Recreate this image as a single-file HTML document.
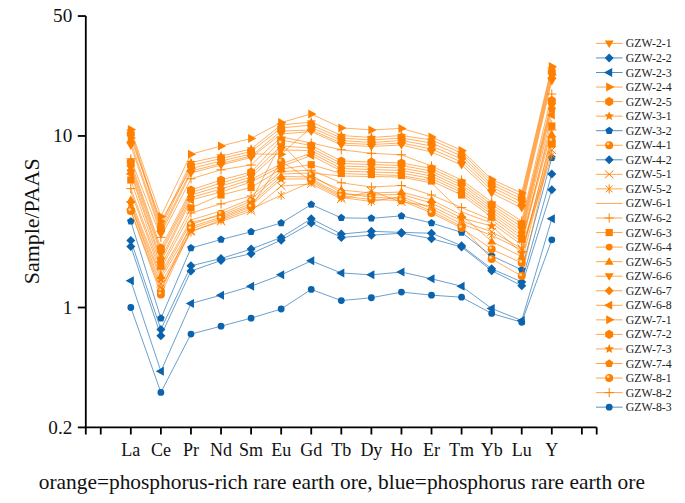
<!DOCTYPE html>
<html><head><meta charset="utf-8"><style>
html,body{margin:0;padding:0;background:#fff;}
body{width:685px;height:503px;overflow:hidden;font-family:"Liberation Serif",serif;}
svg{display:block;}
</style></head><body>
<svg width="685" height="503" viewBox="0 0 685 503">
<rect width="685" height="503" fill="#fff"/>
<defs><g id="m_dtri"><path d="M-4.50,-3.00 L4.50,-3.00 L0.00,4.50 Z"/></g><g id="m_utri"><path d="M-4.50,3.00 L4.50,3.00 L0.00,-4.50 Z"/></g><g id="m_ltri"><path d="M3.00,-4.50 L3.00,4.50 L-5.20,0.00 Z"/></g><g id="m_rtri"><path d="M-3.00,-4.50 L-3.00,4.50 L5.20,0.00 Z"/></g><g id="m_dia"><path d="M0.00,-4.50 L4.50,0.00 L0.00,4.50 L-4.50,0.00 Z"/></g><g id="m_hex"><path d="M0.00,-4.60 L3.98,-2.30 L3.98,2.30 L0.00,4.60 L-3.98,2.30 L-3.98,-2.30 Z"/></g><g id="m_pent"><path d="M0.00,-4.30 L4.09,-1.33 L2.53,3.48 L-2.53,3.48 L-4.09,-1.33 Z"/></g><g id="m_bpent"><path d="M0.00,-4.00 L3.80,-1.24 L2.35,3.24 L-2.35,3.24 L-3.80,-1.24 Z"/></g><g id="m_star"><path d="M0.00,-5.00 L1.29,-1.78 L4.76,-1.55 L2.09,0.68 L2.94,4.05 L0.00,2.20 L-2.94,4.05 L-2.09,0.68 L-4.76,-1.55 L-1.29,-1.78 Z"/></g><g id="m_circ"><circle r="3.4"/></g><g id="m_sq"><rect x="-3.6" y="-3.6" width="7.2" height="7.2"/></g><g id="m_x"><path d="M-4.3,-3.9 L4.3,3.9 M-4.3,3.9 L4.3,-3.9" fill="none" stroke-width="1"/></g><g id="m_aster"><path d="M-3.4,-3.4 L3.4,3.4 M-3.4,3.4 L3.4,-3.4 M0,-4.6 L0,4.6" fill="none" stroke-width="1"/></g><g id="m_plus"><path d="M-4.6,0 L4.6,0 M0,-4.6 L0,4.6" fill="none" stroke-width="1"/></g></defs><polyline points="130.82,221.31 160.89,318.30 190.96,248.08 221.03,239.53 251.10,231.86 281.17,222.97 311.24,204.59 341.31,217.87 371.38,218.32 401.45,215.89 431.52,222.97 461.59,232.40 491.66,255.86 521.73,269.74 551.80,157.78" fill="none" stroke="#0B63AD" stroke-width="0.65" stroke-opacity="0.95"/><use href="#m_bpent" x="130.82" y="221.31" fill="#0B63AD"/><use href="#m_bpent" x="160.89" y="318.30" fill="#0B63AD"/><use href="#m_bpent" x="190.96" y="248.08" fill="#0B63AD"/><use href="#m_bpent" x="221.03" y="239.53" fill="#0B63AD"/><use href="#m_bpent" x="251.10" y="231.86" fill="#0B63AD"/><use href="#m_bpent" x="281.17" y="222.97" fill="#0B63AD"/><use href="#m_bpent" x="311.24" y="204.59" fill="#0B63AD"/><use href="#m_bpent" x="341.31" y="217.87" fill="#0B63AD"/><use href="#m_bpent" x="371.38" y="218.32" fill="#0B63AD"/><use href="#m_bpent" x="401.45" y="215.89" fill="#0B63AD"/><use href="#m_bpent" x="431.52" y="222.97" fill="#0B63AD"/><use href="#m_bpent" x="461.59" y="232.40" fill="#0B63AD"/><use href="#m_bpent" x="491.66" y="255.86" fill="#0B63AD"/><use href="#m_bpent" x="521.73" y="269.74" fill="#0B63AD"/><use href="#m_bpent" x="551.80" y="157.78" fill="#0B63AD"/><polyline points="130.82,240.44 160.89,329.43 190.96,265.81 221.03,258.51 251.10,249.10 281.17,237.47 311.24,218.78 341.31,234.05 371.38,231.32 401.45,232.40 431.52,233.22 461.59,245.77 491.66,268.85 521.73,281.90 551.80,173.88" fill="none" stroke="#0B63AD" stroke-width="0.65" stroke-opacity="0.95"/><use href="#m_dia" x="130.82" y="240.44" fill="#0B63AD"/><use href="#m_dia" x="160.89" y="329.43" fill="#0B63AD"/><use href="#m_dia" x="190.96" y="265.81" fill="#0B63AD"/><use href="#m_dia" x="221.03" y="258.51" fill="#0B63AD"/><use href="#m_dia" x="251.10" y="249.10" fill="#0B63AD"/><use href="#m_dia" x="281.17" y="237.47" fill="#0B63AD"/><use href="#m_dia" x="311.24" y="218.78" fill="#0B63AD"/><use href="#m_dia" x="341.31" y="234.05" fill="#0B63AD"/><use href="#m_dia" x="371.38" y="231.32" fill="#0B63AD"/><use href="#m_dia" x="401.45" y="232.40" fill="#0B63AD"/><use href="#m_dia" x="431.52" y="233.22" fill="#0B63AD"/><use href="#m_dia" x="461.59" y="245.77" fill="#0B63AD"/><use href="#m_dia" x="491.66" y="268.85" fill="#0B63AD"/><use href="#m_dia" x="521.73" y="281.90" fill="#0B63AD"/><use href="#m_dia" x="551.80" y="173.88" fill="#0B63AD"/><polyline points="130.82,246.42 160.89,335.80 190.96,271.10 221.03,260.47 251.10,253.66 281.17,240.13 311.24,222.97 341.31,237.47 371.38,235.17 401.45,233.22 431.52,238.64 461.59,247.08 491.66,270.64 521.73,285.70 551.80,189.71" fill="none" stroke="#0B63AD" stroke-width="0.65" stroke-opacity="0.95"/><use href="#m_dia" x="130.82" y="246.42" fill="#0B63AD"/><use href="#m_dia" x="160.89" y="335.80" fill="#0B63AD"/><use href="#m_dia" x="190.96" y="271.10" fill="#0B63AD"/><use href="#m_dia" x="221.03" y="260.47" fill="#0B63AD"/><use href="#m_dia" x="251.10" y="253.66" fill="#0B63AD"/><use href="#m_dia" x="281.17" y="240.13" fill="#0B63AD"/><use href="#m_dia" x="311.24" y="222.97" fill="#0B63AD"/><use href="#m_dia" x="341.31" y="237.47" fill="#0B63AD"/><use href="#m_dia" x="371.38" y="235.17" fill="#0B63AD"/><use href="#m_dia" x="401.45" y="233.22" fill="#0B63AD"/><use href="#m_dia" x="431.52" y="238.64" fill="#0B63AD"/><use href="#m_dia" x="461.59" y="247.08" fill="#0B63AD"/><use href="#m_dia" x="491.66" y="270.64" fill="#0B63AD"/><use href="#m_dia" x="521.73" y="285.70" fill="#0B63AD"/><use href="#m_dia" x="551.80" y="189.71" fill="#0B63AD"/><polyline points="130.82,280.85 160.89,371.25 190.96,303.51 221.03,295.17 251.10,286.25 281.17,274.85 311.24,260.87 341.31,272.95 371.38,274.85 401.45,272.02 431.52,278.80 461.59,286.25 491.66,308.47 521.73,320.49 551.80,218.78" fill="none" stroke="#0B63AD" stroke-width="0.65" stroke-opacity="0.95"/><use href="#m_ltri" x="130.82" y="280.85" fill="#0B63AD"/><use href="#m_ltri" x="160.89" y="371.25" fill="#0B63AD"/><use href="#m_ltri" x="190.96" y="303.51" fill="#0B63AD"/><use href="#m_ltri" x="221.03" y="295.17" fill="#0B63AD"/><use href="#m_ltri" x="251.10" y="286.25" fill="#0B63AD"/><use href="#m_ltri" x="281.17" y="274.85" fill="#0B63AD"/><use href="#m_ltri" x="311.24" y="260.87" fill="#0B63AD"/><use href="#m_ltri" x="341.31" y="272.95" fill="#0B63AD"/><use href="#m_ltri" x="371.38" y="274.85" fill="#0B63AD"/><use href="#m_ltri" x="401.45" y="272.02" fill="#0B63AD"/><use href="#m_ltri" x="431.52" y="278.80" fill="#0B63AD"/><use href="#m_ltri" x="461.59" y="286.25" fill="#0B63AD"/><use href="#m_ltri" x="491.66" y="308.47" fill="#0B63AD"/><use href="#m_ltri" x="521.73" y="320.49" fill="#0B63AD"/><use href="#m_ltri" x="551.80" y="218.78" fill="#0B63AD"/><polyline points="130.82,307.50 160.89,392.39 190.96,334.07 221.03,326.20 251.10,318.13 281.17,309.01 311.24,289.40 341.31,300.60 371.38,297.74 401.45,292.08 431.52,295.17 461.59,297.22 491.66,313.47 521.73,322.29 551.80,239.83" fill="none" stroke="#0B63AD" stroke-width="0.65" stroke-opacity="0.95"/><use href="#m_circ" x="130.82" y="307.50" fill="#0B63AD"/><use href="#m_circ" x="160.89" y="392.39" fill="#0B63AD"/><use href="#m_circ" x="190.96" y="334.07" fill="#0B63AD"/><use href="#m_circ" x="221.03" y="326.20" fill="#0B63AD"/><use href="#m_circ" x="251.10" y="318.13" fill="#0B63AD"/><use href="#m_circ" x="281.17" y="309.01" fill="#0B63AD"/><use href="#m_circ" x="311.24" y="289.40" fill="#0B63AD"/><use href="#m_circ" x="341.31" y="300.60" fill="#0B63AD"/><use href="#m_circ" x="371.38" y="297.74" fill="#0B63AD"/><use href="#m_circ" x="401.45" y="292.08" fill="#0B63AD"/><use href="#m_circ" x="431.52" y="295.17" fill="#0B63AD"/><use href="#m_circ" x="461.59" y="297.22" fill="#0B63AD"/><use href="#m_circ" x="491.66" y="313.47" fill="#0B63AD"/><use href="#m_circ" x="521.73" y="322.29" fill="#0B63AD"/><use href="#m_circ" x="551.80" y="239.83" fill="#0B63AD"/><polyline points="130.82,129.50 160.89,216.40 190.96,154.20 221.03,146.00 251.10,138.40 281.17,122.50 311.24,114.00 341.31,127.90 371.38,129.90 401.45,128.40 431.52,137.00 461.59,150.40 491.66,179.40 521.73,193.00 551.80,66.40" fill="none" stroke="#FF8000" stroke-width="0.65" stroke-opacity="0.95"/><use href="#m_rtri" x="130.82" y="129.50" fill="#FF8000"/><use href="#m_rtri" x="160.89" y="216.40" fill="#FF8000"/><use href="#m_rtri" x="190.96" y="154.20" fill="#FF8000"/><use href="#m_rtri" x="221.03" y="146.00" fill="#FF8000"/><use href="#m_rtri" x="251.10" y="138.40" fill="#FF8000"/><use href="#m_rtri" x="281.17" y="122.50" fill="#FF8000"/><use href="#m_rtri" x="311.24" y="114.00" fill="#FF8000"/><use href="#m_rtri" x="341.31" y="127.90" fill="#FF8000"/><use href="#m_rtri" x="371.38" y="129.90" fill="#FF8000"/><use href="#m_rtri" x="401.45" y="128.40" fill="#FF8000"/><use href="#m_rtri" x="431.52" y="137.00" fill="#FF8000"/><use href="#m_rtri" x="461.59" y="150.40" fill="#FF8000"/><use href="#m_rtri" x="491.66" y="179.40" fill="#FF8000"/><use href="#m_rtri" x="521.73" y="193.00" fill="#FF8000"/><use href="#m_rtri" x="551.80" y="66.40" fill="#FF8000"/><polyline points="130.82,131.00 160.89,225.00 190.96,162.50 221.03,156.00 251.10,149.00 281.17,125.00 311.24,122.00 341.31,135.50 371.38,137.50 401.45,135.50 431.52,140.00 461.59,153.00 491.66,182.00 521.73,196.00 551.80,69.00" fill="none" stroke="#FF8000" stroke-width="0.65" stroke-opacity="0.95"/><use href="#m_star" x="130.82" y="131.00" fill="#FF8000"/><use href="#m_star" x="160.89" y="225.00" fill="#FF8000"/><use href="#m_star" x="190.96" y="162.50" fill="#FF8000"/><use href="#m_star" x="221.03" y="156.00" fill="#FF8000"/><use href="#m_star" x="251.10" y="149.00" fill="#FF8000"/><use href="#m_star" x="281.17" y="125.00" fill="#FF8000"/><use href="#m_star" x="311.24" y="122.00" fill="#FF8000"/><use href="#m_star" x="341.31" y="135.50" fill="#FF8000"/><use href="#m_star" x="371.38" y="137.50" fill="#FF8000"/><use href="#m_star" x="401.45" y="135.50" fill="#FF8000"/><use href="#m_star" x="431.52" y="140.00" fill="#FF8000"/><use href="#m_star" x="461.59" y="153.00" fill="#FF8000"/><use href="#m_star" x="491.66" y="182.00" fill="#FF8000"/><use href="#m_star" x="521.73" y="196.00" fill="#FF8000"/><use href="#m_star" x="551.80" y="69.00" fill="#FF8000"/><polyline points="130.82,134.00 160.89,228.00 190.96,165.50 221.03,158.50 251.10,151.50 281.17,128.00 311.24,125.00 341.31,138.00 371.38,140.00 401.45,138.00 431.52,143.00 461.59,156.00 491.66,184.50 521.73,199.00 551.80,72.00" fill="none" stroke="#FF8000" stroke-width="0.65" stroke-opacity="0.95"/><use href="#m_hex" x="130.82" y="134.00" fill="#FF8000"/><use href="#m_hex" x="160.89" y="228.00" fill="#FF8000"/><use href="#m_hex" x="190.96" y="165.50" fill="#FF8000"/><use href="#m_hex" x="221.03" y="158.50" fill="#FF8000"/><use href="#m_hex" x="251.10" y="151.50" fill="#FF8000"/><use href="#m_hex" x="281.17" y="128.00" fill="#FF8000"/><use href="#m_hex" x="311.24" y="125.00" fill="#FF8000"/><use href="#m_hex" x="341.31" y="138.00" fill="#FF8000"/><use href="#m_hex" x="371.38" y="140.00" fill="#FF8000"/><use href="#m_hex" x="401.45" y="138.00" fill="#FF8000"/><use href="#m_hex" x="431.52" y="143.00" fill="#FF8000"/><use href="#m_hex" x="461.59" y="156.00" fill="#FF8000"/><use href="#m_hex" x="491.66" y="184.50" fill="#FF8000"/><use href="#m_hex" x="521.73" y="199.00" fill="#FF8000"/><use href="#m_hex" x="551.80" y="72.00" fill="#FF8000"/><polyline points="130.82,138.00 160.89,221.40 190.96,168.50 221.03,161.00 251.10,154.00 281.17,154.20 311.24,127.50 341.31,140.50 371.38,142.50 401.45,140.50 431.52,146.00 461.59,159.00 491.66,187.00 521.73,202.00 551.80,75.00" fill="none" stroke="#FF8000" stroke-width="0.65" stroke-opacity="0.95"/><use href="#m_rtri" x="130.82" y="138.00" fill="#FF8000"/><use href="#m_rtri" x="160.89" y="221.40" fill="#FF8000"/><use href="#m_rtri" x="190.96" y="168.50" fill="#FF8000"/><use href="#m_rtri" x="221.03" y="161.00" fill="#FF8000"/><use href="#m_rtri" x="251.10" y="154.00" fill="#FF8000"/><use href="#m_rtri" x="281.17" y="154.20" fill="#FF8000"/><use href="#m_rtri" x="311.24" y="127.50" fill="#FF8000"/><use href="#m_rtri" x="341.31" y="140.50" fill="#FF8000"/><use href="#m_rtri" x="371.38" y="142.50" fill="#FF8000"/><use href="#m_rtri" x="401.45" y="140.50" fill="#FF8000"/><use href="#m_rtri" x="431.52" y="146.00" fill="#FF8000"/><use href="#m_rtri" x="461.59" y="159.00" fill="#FF8000"/><use href="#m_rtri" x="491.66" y="187.00" fill="#FF8000"/><use href="#m_rtri" x="521.73" y="202.00" fill="#FF8000"/><use href="#m_rtri" x="551.80" y="75.00" fill="#FF8000"/><polyline points="130.82,142.00 160.89,231.00 190.96,171.00 221.03,163.50 251.10,156.00 281.17,131.00 311.24,130.00 341.31,143.00 371.38,144.50 401.45,143.00 431.52,149.00 461.59,162.00 491.66,190.00 521.73,205.00 551.80,78.00" fill="none" stroke="#FF8000" stroke-width="0.65" stroke-opacity="0.95"/><use href="#m_dia" x="130.82" y="142.00" fill="#FF8000"/><use href="#m_dia" x="160.89" y="231.00" fill="#FF8000"/><use href="#m_dia" x="190.96" y="171.00" fill="#FF8000"/><use href="#m_dia" x="221.03" y="163.50" fill="#FF8000"/><use href="#m_dia" x="251.10" y="156.00" fill="#FF8000"/><use href="#m_dia" x="281.17" y="131.00" fill="#FF8000"/><use href="#m_dia" x="311.24" y="130.00" fill="#FF8000"/><use href="#m_dia" x="341.31" y="143.00" fill="#FF8000"/><use href="#m_dia" x="371.38" y="144.50" fill="#FF8000"/><use href="#m_dia" x="401.45" y="143.00" fill="#FF8000"/><use href="#m_dia" x="431.52" y="149.00" fill="#FF8000"/><use href="#m_dia" x="461.59" y="162.00" fill="#FF8000"/><use href="#m_dia" x="491.66" y="190.00" fill="#FF8000"/><use href="#m_dia" x="521.73" y="205.00" fill="#FF8000"/><use href="#m_dia" x="551.80" y="78.00" fill="#FF8000"/><polyline points="130.82,145.50 160.89,234.00 190.96,173.00 221.03,165.00 251.10,157.50 281.17,134.00 311.24,131.50 341.31,145.00 371.38,146.50 401.45,145.00 431.52,152.00 461.59,165.00 491.66,193.00 521.73,208.00 551.80,81.00" fill="none" stroke="#FF8000" stroke-width="0.65" stroke-opacity="0.95"/><use href="#m_dtri" x="130.82" y="145.50" fill="#FF8000"/><use href="#m_dtri" x="160.89" y="234.00" fill="#FF8000"/><use href="#m_dtri" x="190.96" y="173.00" fill="#FF8000"/><use href="#m_dtri" x="221.03" y="165.00" fill="#FF8000"/><use href="#m_dtri" x="251.10" y="157.50" fill="#FF8000"/><use href="#m_dtri" x="281.17" y="134.00" fill="#FF8000"/><use href="#m_dtri" x="311.24" y="131.50" fill="#FF8000"/><use href="#m_dtri" x="341.31" y="145.00" fill="#FF8000"/><use href="#m_dtri" x="371.38" y="146.50" fill="#FF8000"/><use href="#m_dtri" x="401.45" y="145.00" fill="#FF8000"/><use href="#m_dtri" x="431.52" y="152.00" fill="#FF8000"/><use href="#m_dtri" x="461.59" y="165.00" fill="#FF8000"/><use href="#m_dtri" x="491.66" y="193.00" fill="#FF8000"/><use href="#m_dtri" x="521.73" y="208.00" fill="#FF8000"/><use href="#m_dtri" x="551.80" y="81.00" fill="#FF8000"/><polyline points="130.82,158.80 160.89,237.30 190.96,178.80 221.03,169.80 251.10,165.00 281.17,137.00 311.24,143.00 341.31,149.80 371.38,153.30 401.45,154.80 431.52,166.00 461.59,180.00 491.66,202.00 521.73,221.00 551.80,94.00" fill="none" stroke="#FF8000" stroke-width="0.65" stroke-opacity="0.95"/><use href="#m_plus" x="130.82" y="158.80" stroke="#FF8000"/><use href="#m_plus" x="160.89" y="237.30" stroke="#FF8000"/><use href="#m_plus" x="190.96" y="178.80" stroke="#FF8000"/><use href="#m_plus" x="221.03" y="169.80" stroke="#FF8000"/><use href="#m_plus" x="251.10" y="165.00" stroke="#FF8000"/><use href="#m_plus" x="281.17" y="137.00" stroke="#FF8000"/><use href="#m_plus" x="311.24" y="143.00" stroke="#FF8000"/><use href="#m_plus" x="341.31" y="149.80" stroke="#FF8000"/><use href="#m_plus" x="371.38" y="153.30" stroke="#FF8000"/><use href="#m_plus" x="401.45" y="154.80" stroke="#FF8000"/><use href="#m_plus" x="431.52" y="166.00" stroke="#FF8000"/><use href="#m_plus" x="461.59" y="180.00" stroke="#FF8000"/><use href="#m_plus" x="491.66" y="202.00" stroke="#FF8000"/><use href="#m_plus" x="521.73" y="221.00" stroke="#FF8000"/><use href="#m_plus" x="551.80" y="94.00" stroke="#FF8000"/><polyline points="130.82,162.00 160.89,248.00 190.96,190.00 221.03,180.00 251.10,172.00 281.17,140.00 311.24,145.50 341.31,161.00 371.38,162.00 401.45,163.00 431.52,168.50 461.59,182.50 491.66,204.50 521.73,224.00 551.80,100.50" fill="none" stroke="#FF8000" stroke-width="0.65" stroke-opacity="0.95"/><use href="#m_hex" x="130.82" y="162.00" fill="#FF8000"/><use href="#m_hex" x="160.89" y="248.00" fill="#FF8000"/><use href="#m_hex" x="190.96" y="190.00" fill="#FF8000"/><use href="#m_hex" x="221.03" y="180.00" fill="#FF8000"/><use href="#m_hex" x="251.10" y="172.00" fill="#FF8000"/><use href="#m_hex" x="281.17" y="140.00" fill="#FF8000"/><use href="#m_hex" x="311.24" y="145.50" fill="#FF8000"/><use href="#m_hex" x="341.31" y="161.00" fill="#FF8000"/><use href="#m_hex" x="371.38" y="162.00" fill="#FF8000"/><use href="#m_hex" x="401.45" y="163.00" fill="#FF8000"/><use href="#m_hex" x="431.52" y="168.50" fill="#FF8000"/><use href="#m_hex" x="461.59" y="182.50" fill="#FF8000"/><use href="#m_hex" x="491.66" y="204.50" fill="#FF8000"/><use href="#m_hex" x="521.73" y="224.00" fill="#FF8000"/><use href="#m_hex" x="551.80" y="100.50" fill="#FF8000"/><polyline points="130.82,165.00 160.89,251.00 190.96,192.50 221.03,183.00 251.10,174.50 281.17,146.00 311.24,148.00 341.31,163.50 371.38,164.50 401.45,165.50 431.52,171.00 461.59,185.00 491.66,207.00 521.73,227.00 551.80,103.10" fill="none" stroke="#FF8000" stroke-width="0.65" stroke-opacity="0.95"/><use href="#m_circ" x="130.82" y="165.00" fill="#FF8000"/><use href="#m_circ" x="160.89" y="251.00" fill="#FF8000"/><use href="#m_circ" x="190.96" y="192.50" fill="#FF8000"/><use href="#m_circ" x="221.03" y="183.00" fill="#FF8000"/><use href="#m_circ" x="251.10" y="174.50" fill="#FF8000"/><use href="#m_circ" x="281.17" y="146.00" fill="#FF8000"/><use href="#m_circ" x="311.24" y="148.00" fill="#FF8000"/><use href="#m_circ" x="341.31" y="163.50" fill="#FF8000"/><use href="#m_circ" x="371.38" y="164.50" fill="#FF8000"/><use href="#m_circ" x="401.45" y="165.50" fill="#FF8000"/><use href="#m_circ" x="431.52" y="171.00" fill="#FF8000"/><use href="#m_circ" x="461.59" y="185.00" fill="#FF8000"/><use href="#m_circ" x="491.66" y="207.00" fill="#FF8000"/><use href="#m_circ" x="521.73" y="227.00" fill="#FF8000"/><use href="#m_circ" x="551.80" y="103.10" fill="#FF8000"/><polyline points="130.82,168.00 160.89,254.00 190.96,195.00 221.03,186.00 251.10,177.00 281.17,150.00 311.24,150.50 341.31,166.00 371.38,167.00 401.45,168.00 431.52,173.50 461.59,187.50 491.66,209.50 521.73,230.00 551.80,106.00" fill="none" stroke="#FF8000" stroke-width="0.65" stroke-opacity="0.95"/><use href="#m_dtri" x="130.82" y="168.00" fill="#FF8000"/><use href="#m_dtri" x="160.89" y="254.00" fill="#FF8000"/><use href="#m_dtri" x="190.96" y="195.00" fill="#FF8000"/><use href="#m_dtri" x="221.03" y="186.00" fill="#FF8000"/><use href="#m_dtri" x="251.10" y="177.00" fill="#FF8000"/><use href="#m_dtri" x="281.17" y="150.00" fill="#FF8000"/><use href="#m_dtri" x="311.24" y="150.50" fill="#FF8000"/><use href="#m_dtri" x="341.31" y="166.00" fill="#FF8000"/><use href="#m_dtri" x="371.38" y="167.00" fill="#FF8000"/><use href="#m_dtri" x="401.45" y="168.00" fill="#FF8000"/><use href="#m_dtri" x="431.52" y="173.50" fill="#FF8000"/><use href="#m_dtri" x="461.59" y="187.50" fill="#FF8000"/><use href="#m_dtri" x="491.66" y="209.50" fill="#FF8000"/><use href="#m_dtri" x="521.73" y="230.00" fill="#FF8000"/><use href="#m_dtri" x="551.80" y="106.00" fill="#FF8000"/><polyline points="130.82,171.00 160.89,259.00 190.96,197.50 221.03,189.00 251.10,179.50 281.17,164.00 311.24,153.00 341.31,168.50 371.38,169.50 401.45,170.50 431.52,176.00 461.59,190.00 491.66,212.00 521.73,233.00 551.80,109.00" fill="none" stroke="#FF8000" stroke-width="0.65" stroke-opacity="0.95"/><use href="#m_pent" x="130.82" y="171.00" fill="#FF8000"/><use href="#m_pent" x="160.89" y="259.00" fill="#FF8000"/><use href="#m_pent" x="190.96" y="197.50" fill="#FF8000"/><use href="#m_pent" x="221.03" y="189.00" fill="#FF8000"/><use href="#m_pent" x="251.10" y="179.50" fill="#FF8000"/><use href="#m_pent" x="281.17" y="164.00" fill="#FF8000"/><use href="#m_pent" x="311.24" y="153.00" fill="#FF8000"/><use href="#m_pent" x="341.31" y="168.50" fill="#FF8000"/><use href="#m_pent" x="371.38" y="169.50" fill="#FF8000"/><use href="#m_pent" x="401.45" y="170.50" fill="#FF8000"/><use href="#m_pent" x="431.52" y="176.00" fill="#FF8000"/><use href="#m_pent" x="461.59" y="190.00" fill="#FF8000"/><use href="#m_pent" x="491.66" y="212.00" fill="#FF8000"/><use href="#m_pent" x="521.73" y="233.00" fill="#FF8000"/><use href="#m_pent" x="551.80" y="109.00" fill="#FF8000"/><polyline points="130.82,174.00 160.89,262.00 190.96,200.00 221.03,192.00 251.10,182.00 281.17,166.50 311.24,155.50 341.31,171.00 371.38,172.00 401.45,173.00 431.52,178.50 461.59,192.50 491.66,214.50 521.73,236.00 551.80,114.90" fill="none" stroke="#FF8000" stroke-width="0.65" stroke-opacity="0.95"/><use href="#m_ltri" x="130.82" y="174.00" fill="#FF8000"/><use href="#m_ltri" x="160.89" y="262.00" fill="#FF8000"/><use href="#m_ltri" x="190.96" y="200.00" fill="#FF8000"/><use href="#m_ltri" x="221.03" y="192.00" fill="#FF8000"/><use href="#m_ltri" x="251.10" y="182.00" fill="#FF8000"/><use href="#m_ltri" x="281.17" y="166.50" fill="#FF8000"/><use href="#m_ltri" x="311.24" y="155.50" fill="#FF8000"/><use href="#m_ltri" x="341.31" y="171.00" fill="#FF8000"/><use href="#m_ltri" x="371.38" y="172.00" fill="#FF8000"/><use href="#m_ltri" x="401.45" y="173.00" fill="#FF8000"/><use href="#m_ltri" x="431.52" y="178.50" fill="#FF8000"/><use href="#m_ltri" x="461.59" y="192.50" fill="#FF8000"/><use href="#m_ltri" x="491.66" y="214.50" fill="#FF8000"/><use href="#m_ltri" x="521.73" y="236.00" fill="#FF8000"/><use href="#m_ltri" x="551.80" y="114.90" fill="#FF8000"/><polyline points="130.82,180.00 160.89,266.00 190.96,207.90 221.03,195.00 251.10,187.50 281.17,169.00 311.24,164.70 341.31,173.50 371.38,174.50 401.45,175.50 431.52,181.00 461.59,195.00 491.66,217.00 521.73,239.00 551.80,126.00" fill="none" stroke="#FF8000" stroke-width="0.65" stroke-opacity="0.95"/><use href="#m_sq" x="130.82" y="180.00" fill="#FF8000"/><use href="#m_sq" x="160.89" y="266.00" fill="#FF8000"/><use href="#m_sq" x="190.96" y="207.90" fill="#FF8000"/><use href="#m_sq" x="221.03" y="195.00" fill="#FF8000"/><use href="#m_sq" x="251.10" y="187.50" fill="#FF8000"/><use href="#m_sq" x="281.17" y="169.00" fill="#FF8000"/><use href="#m_sq" x="311.24" y="164.70" fill="#FF8000"/><use href="#m_sq" x="341.31" y="173.50" fill="#FF8000"/><use href="#m_sq" x="371.38" y="174.50" fill="#FF8000"/><use href="#m_sq" x="401.45" y="175.50" fill="#FF8000"/><use href="#m_sq" x="431.52" y="181.00" fill="#FF8000"/><use href="#m_sq" x="461.59" y="195.00" fill="#FF8000"/><use href="#m_sq" x="491.66" y="217.00" fill="#FF8000"/><use href="#m_sq" x="521.73" y="239.00" fill="#FF8000"/><use href="#m_sq" x="551.80" y="126.00" fill="#FF8000"/><polyline points="130.82,188.60 160.89,269.00 190.96,213.00 221.03,203.90 251.10,196.00 281.17,171.50 311.24,170.20 341.31,182.80 371.38,187.00 401.45,185.50 431.52,195.00 461.59,207.60 491.66,220.00 521.73,242.00 551.80,130.00" fill="none" stroke="#FF8000" stroke-width="0.65" stroke-opacity="0.95"/><use href="#m_plus" x="130.82" y="188.60" stroke="#FF8000"/><use href="#m_plus" x="160.89" y="269.00" stroke="#FF8000"/><use href="#m_plus" x="190.96" y="213.00" stroke="#FF8000"/><use href="#m_plus" x="221.03" y="203.90" stroke="#FF8000"/><use href="#m_plus" x="251.10" y="196.00" stroke="#FF8000"/><use href="#m_plus" x="281.17" y="171.50" stroke="#FF8000"/><use href="#m_plus" x="311.24" y="170.20" stroke="#FF8000"/><use href="#m_plus" x="341.31" y="182.80" stroke="#FF8000"/><use href="#m_plus" x="371.38" y="187.00" stroke="#FF8000"/><use href="#m_plus" x="401.45" y="185.50" stroke="#FF8000"/><use href="#m_plus" x="431.52" y="195.00" stroke="#FF8000"/><use href="#m_plus" x="461.59" y="207.60" stroke="#FF8000"/><use href="#m_plus" x="491.66" y="220.00" stroke="#FF8000"/><use href="#m_plus" x="521.73" y="242.00" stroke="#FF8000"/><use href="#m_plus" x="551.80" y="130.00" stroke="#FF8000"/><polyline points="130.82,191.60 160.89,273.00 190.96,220.00 221.03,211.00 251.10,199.00 281.17,174.00 311.24,173.00 341.31,176.00 371.38,176.50 401.45,177.00 431.52,183.00 461.59,212.00 491.66,223.00 521.73,245.00 551.80,120.00" fill="none" stroke="#FF8000" stroke-width="0.65" stroke-opacity="0.95"/><polyline points="130.82,200.00 160.89,276.00 190.96,222.50 221.03,215.50 251.10,203.50 281.17,176.50 311.24,177.00 341.31,190.00 371.38,193.00 401.45,192.00 431.52,200.00 461.59,215.00 491.66,241.50 521.73,256.70 551.80,134.40" fill="none" stroke="#FF8000" stroke-width="0.65" stroke-opacity="0.95"/><use href="#m_utri" x="130.82" y="200.00" fill="#FF8000"/><use href="#m_utri" x="160.89" y="276.00" fill="#FF8000"/><use href="#m_utri" x="190.96" y="222.50" fill="#FF8000"/><use href="#m_utri" x="221.03" y="215.50" fill="#FF8000"/><use href="#m_utri" x="251.10" y="203.50" fill="#FF8000"/><use href="#m_utri" x="281.17" y="176.50" fill="#FF8000"/><use href="#m_utri" x="311.24" y="177.00" fill="#FF8000"/><use href="#m_utri" x="341.31" y="190.00" fill="#FF8000"/><use href="#m_utri" x="371.38" y="193.00" fill="#FF8000"/><use href="#m_utri" x="401.45" y="192.00" fill="#FF8000"/><use href="#m_utri" x="431.52" y="200.00" fill="#FF8000"/><use href="#m_utri" x="461.59" y="215.00" fill="#FF8000"/><use href="#m_utri" x="491.66" y="241.50" fill="#FF8000"/><use href="#m_utri" x="521.73" y="256.70" fill="#FF8000"/><use href="#m_utri" x="551.80" y="134.40" fill="#FF8000"/><polyline points="130.82,203.00 160.89,279.00 190.96,227.00 221.03,217.00 251.10,205.50 281.17,179.00 311.24,179.00 341.31,194.50 371.38,195.00 401.45,194.50 431.52,203.00 461.59,218.00 491.66,226.00 521.73,253.00 551.80,138.00" fill="none" stroke="#FF8000" stroke-width="0.65" stroke-opacity="0.95"/><use href="#m_star" x="130.82" y="203.00" fill="#FF8000"/><use href="#m_star" x="160.89" y="279.00" fill="#FF8000"/><use href="#m_star" x="190.96" y="227.00" fill="#FF8000"/><use href="#m_star" x="221.03" y="217.00" fill="#FF8000"/><use href="#m_star" x="251.10" y="205.50" fill="#FF8000"/><use href="#m_star" x="281.17" y="179.00" fill="#FF8000"/><use href="#m_star" x="311.24" y="179.00" fill="#FF8000"/><use href="#m_star" x="341.31" y="194.50" fill="#FF8000"/><use href="#m_star" x="371.38" y="195.00" fill="#FF8000"/><use href="#m_star" x="401.45" y="194.50" fill="#FF8000"/><use href="#m_star" x="431.52" y="203.00" fill="#FF8000"/><use href="#m_star" x="461.59" y="218.00" fill="#FF8000"/><use href="#m_star" x="491.66" y="226.00" fill="#FF8000"/><use href="#m_star" x="521.73" y="253.00" fill="#FF8000"/><use href="#m_star" x="551.80" y="138.00" fill="#FF8000"/><polyline points="130.82,205.50 160.89,283.80 190.96,231.00 221.03,221.50 251.10,211.00 281.17,186.00 311.24,184.00 341.31,199.00 371.38,191.00 401.45,202.00 431.52,206.00 461.59,221.00 491.66,231.80 521.73,248.30 551.80,150.00" fill="none" stroke="#FF8000" stroke-width="0.65" stroke-opacity="0.95"/><use href="#m_x" x="130.82" y="205.50" stroke="#FF8000"/><use href="#m_x" x="160.89" y="283.80" stroke="#FF8000"/><use href="#m_x" x="190.96" y="231.00" stroke="#FF8000"/><use href="#m_x" x="221.03" y="221.50" stroke="#FF8000"/><use href="#m_x" x="251.10" y="211.00" stroke="#FF8000"/><use href="#m_x" x="281.17" y="186.00" stroke="#FF8000"/><use href="#m_x" x="311.24" y="184.00" stroke="#FF8000"/><use href="#m_x" x="341.31" y="199.00" stroke="#FF8000"/><use href="#m_x" x="371.38" y="191.00" stroke="#FF8000"/><use href="#m_x" x="401.45" y="202.00" stroke="#FF8000"/><use href="#m_x" x="431.52" y="206.00" stroke="#FF8000"/><use href="#m_x" x="461.59" y="221.00" stroke="#FF8000"/><use href="#m_x" x="491.66" y="231.80" stroke="#FF8000"/><use href="#m_x" x="521.73" y="248.30" stroke="#FF8000"/><use href="#m_x" x="551.80" y="150.00" stroke="#FF8000"/><polyline points="130.82,206.00 160.89,288.00 190.96,232.00 221.03,220.00 251.10,209.00 281.17,195.30 311.24,182.00 341.31,197.50 371.38,201.50 401.45,196.50 431.52,208.50 461.59,224.00 491.66,235.30 521.73,250.00 551.80,155.00" fill="none" stroke="#FF8000" stroke-width="0.65" stroke-opacity="0.95"/><use href="#m_aster" x="130.82" y="206.00" stroke="#FF8000"/><use href="#m_aster" x="160.89" y="288.00" stroke="#FF8000"/><use href="#m_aster" x="190.96" y="232.00" stroke="#FF8000"/><use href="#m_aster" x="221.03" y="220.00" stroke="#FF8000"/><use href="#m_aster" x="251.10" y="209.00" stroke="#FF8000"/><use href="#m_aster" x="281.17" y="195.30" stroke="#FF8000"/><use href="#m_aster" x="311.24" y="182.00" stroke="#FF8000"/><use href="#m_aster" x="341.31" y="197.50" stroke="#FF8000"/><use href="#m_aster" x="371.38" y="201.50" stroke="#FF8000"/><use href="#m_aster" x="401.45" y="196.50" stroke="#FF8000"/><use href="#m_aster" x="431.52" y="208.50" stroke="#FF8000"/><use href="#m_aster" x="461.59" y="224.00" stroke="#FF8000"/><use href="#m_aster" x="491.66" y="235.30" stroke="#FF8000"/><use href="#m_aster" x="521.73" y="250.00" stroke="#FF8000"/><use href="#m_aster" x="551.80" y="155.00" stroke="#FF8000"/><polyline points="130.82,210.50 160.89,291.00 190.96,224.80 221.03,213.80 251.10,201.00 281.17,143.30 311.24,175.10 341.31,192.70 371.38,197.30 401.45,198.50 431.52,211.20 461.59,226.40 491.66,258.90 521.73,276.10 551.80,144.10" fill="none" stroke="#FF8000" stroke-width="0.65" stroke-opacity="0.95"/><circle cx="130.82" cy="210.50" r="4" fill="#FF8000"/><circle cx="129.72" cy="209.10" r="1.4" fill="#FBD9A8"/><circle cx="160.89" cy="291.00" r="4" fill="#FF8000"/><circle cx="159.79" cy="289.60" r="1.4" fill="#FBD9A8"/><circle cx="190.96" cy="224.80" r="4" fill="#FF8000"/><circle cx="189.86" cy="223.40" r="1.4" fill="#FBD9A8"/><circle cx="221.03" cy="213.80" r="4" fill="#FF8000"/><circle cx="219.93" cy="212.40" r="1.4" fill="#FBD9A8"/><circle cx="251.10" cy="201.00" r="4" fill="#FF8000"/><circle cx="250.00" cy="199.60" r="1.4" fill="#FBD9A8"/><circle cx="281.17" cy="143.30" r="4" fill="#FF8000"/><circle cx="280.07" cy="141.90" r="1.4" fill="#FBD9A8"/><circle cx="311.24" cy="175.10" r="4" fill="#FF8000"/><circle cx="310.14" cy="173.70" r="1.4" fill="#FBD9A8"/><circle cx="341.31" cy="192.70" r="4" fill="#FF8000"/><circle cx="340.21" cy="191.30" r="1.4" fill="#FBD9A8"/><circle cx="371.38" cy="197.30" r="4" fill="#FF8000"/><circle cx="370.28" cy="195.90" r="1.4" fill="#FBD9A8"/><circle cx="401.45" cy="198.50" r="4" fill="#FF8000"/><circle cx="400.35" cy="197.10" r="1.4" fill="#FBD9A8"/><circle cx="431.52" cy="211.20" r="4" fill="#FF8000"/><circle cx="430.42" cy="209.80" r="1.4" fill="#FBD9A8"/><circle cx="461.59" cy="226.40" r="4" fill="#FF8000"/><circle cx="460.49" cy="225.00" r="1.4" fill="#FBD9A8"/><circle cx="491.66" cy="258.90" r="4" fill="#FF8000"/><circle cx="490.56" cy="257.50" r="1.4" fill="#FBD9A8"/><circle cx="521.73" cy="276.10" r="4" fill="#FF8000"/><circle cx="520.63" cy="274.70" r="1.4" fill="#FBD9A8"/><circle cx="551.80" cy="144.10" r="4" fill="#FF8000"/><circle cx="550.70" cy="142.70" r="1.4" fill="#FBD9A8"/><polyline points="130.82,211.00 160.89,294.50 190.96,229.00 221.03,218.50 251.10,207.00 281.17,161.50 311.24,180.50 341.31,196.00 371.38,199.50 401.45,200.50 431.52,213.00 461.59,228.00 491.66,249.20 521.73,262.90 551.80,141.00" fill="none" stroke="#FF8000" stroke-width="0.65" stroke-opacity="0.95"/><circle cx="130.82" cy="211.00" r="4" fill="#FF8000"/><circle cx="129.72" cy="209.60" r="1.4" fill="#FBD9A8"/><circle cx="160.89" cy="294.50" r="4" fill="#FF8000"/><circle cx="159.79" cy="293.10" r="1.4" fill="#FBD9A8"/><circle cx="190.96" cy="229.00" r="4" fill="#FF8000"/><circle cx="189.86" cy="227.60" r="1.4" fill="#FBD9A8"/><circle cx="221.03" cy="218.50" r="4" fill="#FF8000"/><circle cx="219.93" cy="217.10" r="1.4" fill="#FBD9A8"/><circle cx="251.10" cy="207.00" r="4" fill="#FF8000"/><circle cx="250.00" cy="205.60" r="1.4" fill="#FBD9A8"/><circle cx="281.17" cy="161.50" r="4" fill="#FF8000"/><circle cx="280.07" cy="160.10" r="1.4" fill="#FBD9A8"/><circle cx="311.24" cy="180.50" r="4" fill="#FF8000"/><circle cx="310.14" cy="179.10" r="1.4" fill="#FBD9A8"/><circle cx="341.31" cy="196.00" r="4" fill="#FF8000"/><circle cx="340.21" cy="194.60" r="1.4" fill="#FBD9A8"/><circle cx="371.38" cy="199.50" r="4" fill="#FF8000"/><circle cx="370.28" cy="198.10" r="1.4" fill="#FBD9A8"/><circle cx="401.45" cy="200.50" r="4" fill="#FF8000"/><circle cx="400.35" cy="199.10" r="1.4" fill="#FBD9A8"/><circle cx="431.52" cy="213.00" r="4" fill="#FF8000"/><circle cx="430.42" cy="211.60" r="1.4" fill="#FBD9A8"/><circle cx="461.59" cy="228.00" r="4" fill="#FF8000"/><circle cx="460.49" cy="226.60" r="1.4" fill="#FBD9A8"/><circle cx="491.66" cy="249.20" r="4" fill="#FF8000"/><circle cx="490.56" cy="247.80" r="1.4" fill="#FBD9A8"/><circle cx="521.73" cy="262.90" r="4" fill="#FF8000"/><circle cx="520.63" cy="261.50" r="1.4" fill="#FBD9A8"/><circle cx="551.80" cy="141.00" r="4" fill="#FF8000"/><circle cx="550.70" cy="139.60" r="1.4" fill="#FBD9A8"/>
<path d="M85.8,16.0 L85.8,427.3 L596.7,427.3" fill="none" stroke="#000" stroke-width="1.8"/><line x1="77.8" y1="16.04" x2="85.8" y2="16.04" stroke="#000" stroke-width="1.8"/><line x1="77.8" y1="135.95" x2="85.8" y2="135.95" stroke="#000" stroke-width="1.8"/><line x1="77.8" y1="307.50" x2="85.8" y2="307.50" stroke="#000" stroke-width="1.8"/><line x1="77.8" y1="427.41" x2="85.8" y2="427.41" stroke="#000" stroke-width="1.8"/><line x1="100.75" y1="427.3" x2="100.75" y2="434.5" stroke="#000" stroke-width="1.8"/><line x1="130.82" y1="427.3" x2="130.82" y2="434.5" stroke="#000" stroke-width="1.8"/><line x1="160.89" y1="427.3" x2="160.89" y2="434.5" stroke="#000" stroke-width="1.8"/><line x1="190.96" y1="427.3" x2="190.96" y2="434.5" stroke="#000" stroke-width="1.8"/><line x1="221.03" y1="427.3" x2="221.03" y2="434.5" stroke="#000" stroke-width="1.8"/><line x1="251.10" y1="427.3" x2="251.10" y2="434.5" stroke="#000" stroke-width="1.8"/><line x1="281.17" y1="427.3" x2="281.17" y2="434.5" stroke="#000" stroke-width="1.8"/><line x1="311.24" y1="427.3" x2="311.24" y2="434.5" stroke="#000" stroke-width="1.8"/><line x1="341.31" y1="427.3" x2="341.31" y2="434.5" stroke="#000" stroke-width="1.8"/><line x1="371.38" y1="427.3" x2="371.38" y2="434.5" stroke="#000" stroke-width="1.8"/><line x1="401.45" y1="427.3" x2="401.45" y2="434.5" stroke="#000" stroke-width="1.8"/><line x1="431.52" y1="427.3" x2="431.52" y2="434.5" stroke="#000" stroke-width="1.8"/><line x1="461.59" y1="427.3" x2="461.59" y2="434.5" stroke="#000" stroke-width="1.8"/><line x1="491.66" y1="427.3" x2="491.66" y2="434.5" stroke="#000" stroke-width="1.8"/><line x1="521.73" y1="427.3" x2="521.73" y2="434.5" stroke="#000" stroke-width="1.8"/><line x1="551.80" y1="427.3" x2="551.80" y2="434.5" stroke="#000" stroke-width="1.8"/><line x1="581.87" y1="427.3" x2="581.87" y2="434.5" stroke="#000" stroke-width="1.8"/><line x1="596.7" y1="427.3" x2="596.7" y2="434.5" stroke="#000" stroke-width="1.8"/><line x1="85.8" y1="427.3" x2="85.8" y2="434.5" stroke="#000" stroke-width="1.8"/>
<text x="72.3" y="22.24" font-family="Liberation Serif, serif" font-size="19.2" text-anchor="end" fill="#111">50</text><text x="72.3" y="142.15" font-family="Liberation Serif, serif" font-size="19.2" text-anchor="end" fill="#111">10</text><text x="72.3" y="313.70" font-family="Liberation Serif, serif" font-size="19.2" text-anchor="end" fill="#111">1</text><text x="72.3" y="433.61" font-family="Liberation Serif, serif" font-size="19.2" text-anchor="end" fill="#111">0.2</text><text x="130.82" y="455.6" font-family="Liberation Serif, serif" font-size="18" text-anchor="middle" fill="#111">La</text><text x="160.89" y="455.6" font-family="Liberation Serif, serif" font-size="18" text-anchor="middle" fill="#111">Ce</text><text x="190.96" y="455.6" font-family="Liberation Serif, serif" font-size="18" text-anchor="middle" fill="#111">Pr</text><text x="221.03" y="455.6" font-family="Liberation Serif, serif" font-size="18" text-anchor="middle" fill="#111">Nd</text><text x="251.10" y="455.6" font-family="Liberation Serif, serif" font-size="18" text-anchor="middle" fill="#111">Sm</text><text x="281.17" y="455.6" font-family="Liberation Serif, serif" font-size="18" text-anchor="middle" fill="#111">Eu</text><text x="311.24" y="455.6" font-family="Liberation Serif, serif" font-size="18" text-anchor="middle" fill="#111">Gd</text><text x="341.31" y="455.6" font-family="Liberation Serif, serif" font-size="18" text-anchor="middle" fill="#111">Tb</text><text x="371.38" y="455.6" font-family="Liberation Serif, serif" font-size="18" text-anchor="middle" fill="#111">Dy</text><text x="401.45" y="455.6" font-family="Liberation Serif, serif" font-size="18" text-anchor="middle" fill="#111">Ho</text><text x="431.52" y="455.6" font-family="Liberation Serif, serif" font-size="18" text-anchor="middle" fill="#111">Er</text><text x="461.59" y="455.6" font-family="Liberation Serif, serif" font-size="18" text-anchor="middle" fill="#111">Tm</text><text x="491.66" y="455.6" font-family="Liberation Serif, serif" font-size="18" text-anchor="middle" fill="#111">Yb</text><text x="521.73" y="455.6" font-family="Liberation Serif, serif" font-size="18" text-anchor="middle" fill="#111">Lu</text><text x="551.80" y="455.6" font-family="Liberation Serif, serif" font-size="18" text-anchor="middle" fill="#111">Y</text><text transform="translate(38.9,221.3) rotate(-90)" font-family="Liberation Serif, serif" font-size="21.9" text-anchor="middle" fill="#111">Sample/PAAS</text><text x="38.7" y="488.5" font-family="Liberation Serif, serif" font-size="21.4" fill="#111">orange=phosphorus-rich rare earth ore, blue=phosphorus rare earth ore</text>
<line x1="596" y1="43.40" x2="622.6" y2="43.40" stroke="#FF8000" stroke-width="1" stroke-opacity="0.7"/><use href="#m_dtri" x="609.20" y="43.40" fill="#FF8000"/><text x="625.8" y="47.40" font-family="Liberation Serif, serif" font-size="11.8" fill="#222">GZW-2-1</text><line x1="596" y1="57.95" x2="622.6" y2="57.95" stroke="#0B63AD" stroke-width="1" stroke-opacity="0.7"/><use href="#m_dia" x="609.20" y="57.95" fill="#0B63AD"/><text x="625.8" y="61.95" font-family="Liberation Serif, serif" font-size="11.8" fill="#222">GZW-2-2</text><line x1="596" y1="72.50" x2="622.6" y2="72.50" stroke="#0B63AD" stroke-width="1" stroke-opacity="0.7"/><use href="#m_ltri" x="609.20" y="72.50" fill="#0B63AD"/><text x="625.8" y="76.50" font-family="Liberation Serif, serif" font-size="11.8" fill="#222">GZW-2-3</text><line x1="596" y1="87.05" x2="622.6" y2="87.05" stroke="#FF8000" stroke-width="1" stroke-opacity="0.7"/><use href="#m_rtri" x="609.20" y="87.05" fill="#FF8000"/><text x="625.8" y="91.05" font-family="Liberation Serif, serif" font-size="11.8" fill="#222">GZW-2-4</text><line x1="596" y1="101.60" x2="622.6" y2="101.60" stroke="#FF8000" stroke-width="1" stroke-opacity="0.7"/><use href="#m_hex" x="609.20" y="101.60" fill="#FF8000"/><text x="625.8" y="105.60" font-family="Liberation Serif, serif" font-size="11.8" fill="#222">GZW-2-5</text><line x1="596" y1="116.15" x2="622.6" y2="116.15" stroke="#FF8000" stroke-width="1" stroke-opacity="0.7"/><use href="#m_star" x="609.20" y="116.15" fill="#FF8000"/><text x="625.8" y="120.15" font-family="Liberation Serif, serif" font-size="11.8" fill="#222">GZW-3-1</text><line x1="596" y1="130.70" x2="622.6" y2="130.70" stroke="#0B63AD" stroke-width="1" stroke-opacity="0.7"/><use href="#m_bpent" x="609.20" y="130.70" fill="#0B63AD"/><text x="625.8" y="134.70" font-family="Liberation Serif, serif" font-size="11.8" fill="#222">GZW-3-2</text><line x1="596" y1="145.25" x2="622.6" y2="145.25" stroke="#FF8000" stroke-width="1" stroke-opacity="0.7"/><circle cx="609.20" cy="145.25" r="4" fill="#FF8000"/><circle cx="608.10" cy="143.85" r="1.4" fill="#FBD9A8"/><text x="625.8" y="149.25" font-family="Liberation Serif, serif" font-size="11.8" fill="#222">GZW-4-1</text><line x1="596" y1="159.80" x2="622.6" y2="159.80" stroke="#0B63AD" stroke-width="1" stroke-opacity="0.7"/><use href="#m_dia" x="609.20" y="159.80" fill="#0B63AD"/><text x="625.8" y="163.80" font-family="Liberation Serif, serif" font-size="11.8" fill="#222">GZW-4-2</text><line x1="596" y1="174.35" x2="622.6" y2="174.35" stroke="#FF8000" stroke-width="1" stroke-opacity="0.7"/><use href="#m_x" x="609.20" y="174.35" stroke="#FF8000"/><text x="625.8" y="178.35" font-family="Liberation Serif, serif" font-size="11.8" fill="#222">GZW-5-1</text><line x1="596" y1="188.90" x2="622.6" y2="188.90" stroke="#FF8000" stroke-width="1" stroke-opacity="0.7"/><use href="#m_aster" x="609.20" y="188.90" stroke="#FF8000"/><text x="625.8" y="192.90" font-family="Liberation Serif, serif" font-size="11.8" fill="#222">GZW-5-2</text><line x1="596" y1="203.45" x2="622.6" y2="203.45" stroke="#FF8000" stroke-width="1" stroke-opacity="0.7"/><text x="625.8" y="207.45" font-family="Liberation Serif, serif" font-size="11.8" fill="#222">GZW-6-1</text><line x1="596" y1="218.00" x2="622.6" y2="218.00" stroke="#FF8000" stroke-width="1" stroke-opacity="0.7"/><use href="#m_plus" x="609.20" y="218.00" stroke="#FF8000"/><text x="625.8" y="222.00" font-family="Liberation Serif, serif" font-size="11.8" fill="#222">GZW-6-2</text><line x1="596" y1="232.55" x2="622.6" y2="232.55" stroke="#FF8000" stroke-width="1" stroke-opacity="0.7"/><use href="#m_sq" x="609.20" y="232.55" fill="#FF8000"/><text x="625.8" y="236.55" font-family="Liberation Serif, serif" font-size="11.8" fill="#222">GZW-6-3</text><line x1="596" y1="247.10" x2="622.6" y2="247.10" stroke="#FF8000" stroke-width="1" stroke-opacity="0.7"/><use href="#m_circ" x="609.20" y="247.10" fill="#FF8000"/><text x="625.8" y="251.10" font-family="Liberation Serif, serif" font-size="11.8" fill="#222">GZW-6-4</text><line x1="596" y1="261.65" x2="622.6" y2="261.65" stroke="#FF8000" stroke-width="1" stroke-opacity="0.7"/><use href="#m_utri" x="609.20" y="261.65" fill="#FF8000"/><text x="625.8" y="265.65" font-family="Liberation Serif, serif" font-size="11.8" fill="#222">GZW-6-5</text><line x1="596" y1="276.20" x2="622.6" y2="276.20" stroke="#FF8000" stroke-width="1" stroke-opacity="0.7"/><use href="#m_dtri" x="609.20" y="276.20" fill="#FF8000"/><text x="625.8" y="280.20" font-family="Liberation Serif, serif" font-size="11.8" fill="#222">GZW-6-6</text><line x1="596" y1="290.75" x2="622.6" y2="290.75" stroke="#FF8000" stroke-width="1" stroke-opacity="0.7"/><use href="#m_dia" x="609.20" y="290.75" fill="#FF8000"/><text x="625.8" y="294.75" font-family="Liberation Serif, serif" font-size="11.8" fill="#222">GZW-6-7</text><line x1="596" y1="305.30" x2="622.6" y2="305.30" stroke="#FF8000" stroke-width="1" stroke-opacity="0.7"/><use href="#m_ltri" x="609.20" y="305.30" fill="#FF8000"/><text x="625.8" y="309.30" font-family="Liberation Serif, serif" font-size="11.8" fill="#222">GZW-6-8</text><line x1="596" y1="319.85" x2="622.6" y2="319.85" stroke="#FF8000" stroke-width="1" stroke-opacity="0.7"/><use href="#m_rtri" x="609.20" y="319.85" fill="#FF8000"/><text x="625.8" y="323.85" font-family="Liberation Serif, serif" font-size="11.8" fill="#222">GZW-7-1</text><line x1="596" y1="334.40" x2="622.6" y2="334.40" stroke="#FF8000" stroke-width="1" stroke-opacity="0.7"/><use href="#m_hex" x="609.20" y="334.40" fill="#FF8000"/><text x="625.8" y="338.40" font-family="Liberation Serif, serif" font-size="11.8" fill="#222">GZW-7-2</text><line x1="596" y1="348.95" x2="622.6" y2="348.95" stroke="#FF8000" stroke-width="1" stroke-opacity="0.7"/><use href="#m_star" x="609.20" y="348.95" fill="#FF8000"/><text x="625.8" y="352.95" font-family="Liberation Serif, serif" font-size="11.8" fill="#222">GZW-7-3</text><line x1="596" y1="363.50" x2="622.6" y2="363.50" stroke="#FF8000" stroke-width="1" stroke-opacity="0.7"/><use href="#m_pent" x="609.20" y="363.50" fill="#FF8000"/><text x="625.8" y="367.50" font-family="Liberation Serif, serif" font-size="11.8" fill="#222">GZW-7-4</text><line x1="596" y1="378.05" x2="622.6" y2="378.05" stroke="#FF8000" stroke-width="1" stroke-opacity="0.7"/><circle cx="609.20" cy="378.05" r="4" fill="#FF8000"/><circle cx="608.10" cy="376.65" r="1.4" fill="#FBD9A8"/><text x="625.8" y="382.05" font-family="Liberation Serif, serif" font-size="11.8" fill="#222">GZW-8-1</text><line x1="596" y1="392.60" x2="622.6" y2="392.60" stroke="#FF8000" stroke-width="1" stroke-opacity="0.7"/><use href="#m_plus" x="609.20" y="392.60" stroke="#FF8000"/><text x="625.8" y="396.60" font-family="Liberation Serif, serif" font-size="11.8" fill="#222">GZW-8-2</text><line x1="596" y1="407.15" x2="622.6" y2="407.15" stroke="#0B63AD" stroke-width="1" stroke-opacity="0.7"/><use href="#m_circ" x="609.20" y="407.15" fill="#0B63AD"/><text x="625.8" y="411.15" font-family="Liberation Serif, serif" font-size="11.8" fill="#222">GZW-8-3</text>
</svg>
</body></html>
